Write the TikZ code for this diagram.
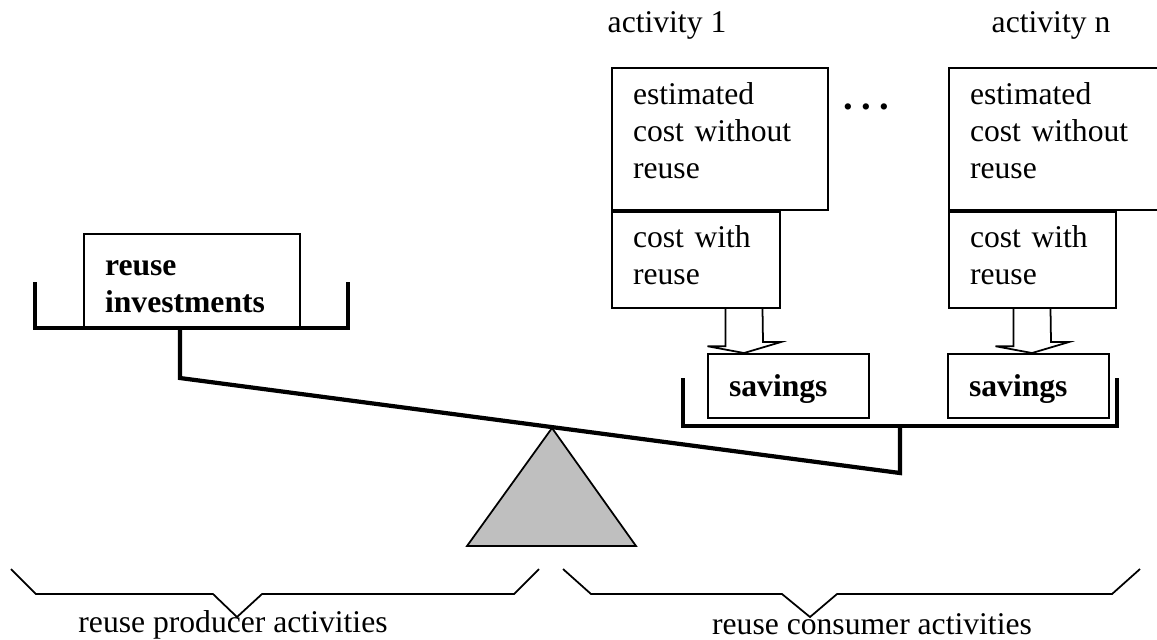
\documentclass[tikz,border=0pt]{standalone}
\usepackage{fontspec}
\setmainfont{Liberation Serif}
\usepackage{tikz}
\usetikzlibrary{calc,positioning}
\newcommand{\figfont}{\fontsize{9pt}{10.6pt}\selectfont}
\tikzset{
  box/.style    ={draw,line width=.6pt,align=left,anchor=north west,
                  inner xsep=2.1mm,inner ysep=0pt,font=\figfont,
                  text width=17.4mm,minimum width=21.6mm},
  savebox/.style={box,text width=11.9mm,minimum width=16.1mm,
                  text height=4.2mm,text depth=2.2mm,font=\figfont\bfseries},
  lbl/.style    ={font=\figfont,inner sep=0pt},
  beam/.style   ={line width=1.2pt,line join=miter},
  hollow/.style ={draw,line width=.5pt,fill=white,line join=miter},
  brace/.style  ={draw,line width=.5pt},
}
\begin{document}
\begin{tikzpicture}[x=0.1mm,y=-0.1mm]
\useasboundingbox (0,0) rectangle (1157,639);
\clip (0,0) rectangle (1157,639);
% producer side
\node[box,text height=4.1mm,text depth=5.4mm,font=\figfont\bfseries] (inv)
  at (83,233) {reuse\\investments};
\draw[beam] (35,282) |- (348,328) -- (348,282);
% consumer activities
\node[lbl,anchor=base west] (act1) at (607,32) {activity 1};
\node[lbl,anchor=base west] (actn) at (991,32) {activity n};
\node[box,text height=3.6mm,text depth=10.6mm] (est1) at (611,67)
  {estimated\\cost without\\reuse};
\node[box,text height=3.5mm,text depth=6.1mm,text width=12.6mm,minimum width=16.8mm]
  (cost1) at (est1.south west) {cost with\\reuse};
\node[box,text height=3.6mm,text depth=10.6mm] (estn) at (948,67)
  {estimated\\cost without\\reuse};
\node[box,text height=3.5mm,text depth=6.1mm,text width=12.5mm,minimum width=16.7mm]
  (costn) at (estn.south west) {cost with\\reuse};
\node[lbl,font=\fontsize{11pt}{12pt}\selectfont\bfseries] (dots) at (866,107)
  {.\hspace{2.4pt}.\hspace{2.4pt}.};
\node[savebox] (sav1) at (707,353) {savings};
\node[savebox] (savn) at (947,353) {savings};
% savings arrows
\coordinate (a1) at (744,0);
\coordinate (an) at (1032,0);
\foreach \c/\s/\a in {cost1/sav1/a1,costn/savn/an}
  \draw[hollow] ($(\c.south -| \a)+(-18.5,0)$) -- ++(0,37) -- ++(-18,0)
    -- (\s.north -| \a) -- ++(37,-11) -- ++(-18,0)
    -- ($(\c.south -| \a)+(18.5,0)$);
\draw[beam] (683,378) |- (1117,426) -- (1117,378);
% balance
\draw[beam] (180,328) -- (180,378) -- (900,473) -- (900,426);
\draw[line width=.5pt,fill=black!25] (552,428) -- (636,546) -- (467,546) -- cycle;
% braces
\draw[brace] (11,569) -- (36,594) -- (213,594) -- (237,617) -- (262,594)
  -- (514,594) -- (539,569);
\draw[brace] (563,569) -- (591,594) -- (782,594) -- (810,617) -- (837,594)
  -- (1112,594) -- (1140,569);
\node[lbl,anchor=base] (prod) at (233,632) {reuse producer activities};
\node[lbl,anchor=base] (cons) at (872,634) {reuse consumer activities};
\end{tikzpicture}
\end{document}
